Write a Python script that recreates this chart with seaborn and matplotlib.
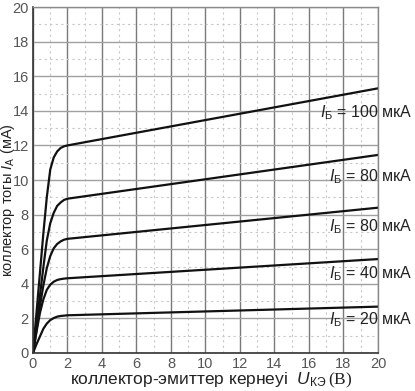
import numpy as np
import pandas as pd
import matplotlib.pyplot as plt
import seaborn as sns

# collector voltage points (V)
u_ke = [0, 0.2, 0.4, 0.6, 0.8, 1.0, 1.2, 1.4, 1.6, 1.8, 2.0, 20]

# collector current (mA) for each base current curve
ic_100 = [0, 2.3, 4.6, 6.9, 9.0, 10.6, 11.3, 11.65, 11.85, 11.95, 12.0, 15.3]
ic_80 = [0, 1.65, 3.3, 4.95, 6.5, 7.5, 8.1, 8.5, 8.7, 8.85, 8.92, 11.45]
ic_60 = [0, 1.3, 2.7, 3.9, 4.9, 5.6, 6.05, 6.3, 6.45, 6.55, 6.6, 8.4]
ic_40 = [0, 1.2, 2.3, 3.1, 3.65, 3.95, 4.12, 4.22, 4.27, 4.3, 4.32, 5.43]
ic_20 = [0, 0.5, 0.95, 1.4, 1.7, 1.9, 2.02, 2.1, 2.14, 2.16, 2.18, 2.68]

curve_names = ["100", "80", "60", "40", "20"]
# labels as printed on the chart (the 60 curve is labelled 80 there)
label_texts = ["100", "80", "80", "40", "20"]
label_y = [13.9, 10.2, 7.3, 4.6, 1.95]

rows = []
for name, vals in zip(curve_names, [ic_100, ic_80, ic_60, ic_40, ic_20]):
    for u, i in zip(u_ke, vals):
        rows.append({"U": u, "I": i, "Ib": name})
df = pd.DataFrame(rows)

sns.set_style("white")
plt.rcParams['font.family'] = ['Liberation Sans', 'DejaVu Sans']
plt.rcParams['mathtext.fontset'] = 'custom'
plt.rcParams['mathtext.rm'] = 'Liberation Serif'
plt.rcParams['mathtext.it'] = 'Liberation Sans:italic'
plt.rcParams['mathtext.sf'] = 'Liberation Sans'

fig = plt.figure(figsize=(4.15, 3.91), dpi=100)
ax = fig.add_axes([0.0795, 0.0972, 0.8313, 0.8848])

sns.lineplot(data=df, x="U", y="I", hue="Ib", units="Ib", estimator=None,
             palette=["#111111"] * 5, linewidth=1.6, legend=False, ax=ax, sort=True)
ax.set_xlabel("")
ax.set_ylabel("")

ax.set_xlim(0, 20)
ax.set_ylim(0, 20)
ax.set_xticks(range(0, 21, 2))
ax.set_yticks(range(0, 21, 2))
ax.set_xticks(range(1, 20, 2), minor=True)
ax.set_yticks(range(1, 20, 2), minor=True)
ax.tick_params(axis='both', which='both', length=0, labelsize=10.5,
               labelcolor="#555555")
ax.tick_params(axis='x', pad=3)
ax.tick_params(axis='y', pad=3)

ax.xaxis.grid(True, which='major', color="#7a7a7a", linewidth=1.0)
ax.yaxis.grid(True, which='major', color="#a0a0a0", linewidth=1.0)
ax.grid(True, which='minor', color="#c8c8c8", linewidth=0.8, linestyle=(0, (2, 3)))
ax.set_axisbelow(True)

for side in ['top', 'right']:
    ax.spines[side].set_color("#8a8a8a")
    ax.spines[side].set_linewidth(1.0)
for side in ['left', 'bottom']:
    ax.spines[side].set_color("#333333")
    ax.spines[side].set_linewidth(1.2)

for txt, y in zip(label_texts, label_y):
    ax.text(22.0, y, r"$I_{\mathsf{Б}}$" + " = " + txt + " мкА", ha='right',
            va='center', fontsize=11.5, color="#222222", clip_on=False)

# axis titles placed in figure coordinates to match the reference
fig.text(211 / 415, 1 - 380 / 391,
         r"коллектор-эмиттер кернеуі  $U_{\mathsf{КЭ}}\,\mathrm{(В)}$",
         ha='center', va='center', fontsize=12.5, color="#222222")
fig.text(8 / 415, 1 - 200 / 391,
         r"коллектор тогы $I_{\mathsf{А}}$ (мА)",
         ha='center', va='center', rotation=90, fontsize=10.5, color="#222222")

fig.savefig("out.png", dpi=100)
